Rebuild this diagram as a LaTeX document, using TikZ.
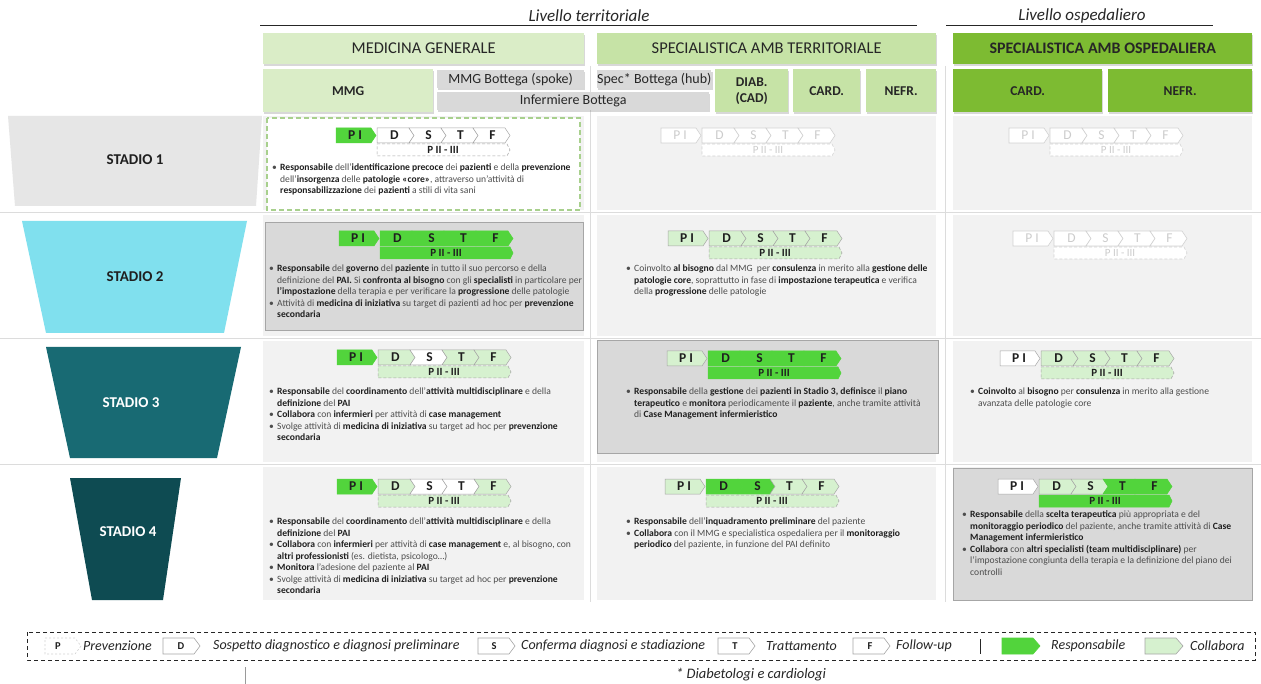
\documentclass[tikz,border=0pt]{standalone}
\usepackage{fontspec}
\setmainfont{Carlito}
\usetikzlibrary{shadows}
\definecolor{resp}{HTML}{52D43C}
\definecolor{coll}{HTML}{D6F1CF}
\definecolor{chb}{HTML}{A6A6A6}
\definecolor{fade}{HTML}{D2D2D2}
\definecolor{fadetxt}{HTML}{CCCCCC}
\definecolor{hdA}{HTML}{DAEDC7}
\definecolor{hdB}{HTML}{C6E3A6}
\definecolor{hdC}{HTML}{7DBB32}
\definecolor{hdG}{HTML}{D9D9D9}
\definecolor{cellbg}{HTML}{F2F2F2}
\definecolor{cellhl}{HTML}{D9D9D9}
\definecolor{gridc}{HTML}{DCDCDC}
\definecolor{txt}{HTML}{4D4D4D}
\definecolor{txtd}{HTML}{1F1F1F}
\definecolor{st1}{HTML}{E6E6E6}
\definecolor{st2}{HTML}{80E0EE}
\definecolor{st3}{HTML}{186A73}
\definecolor{st4}{HTML}{0E4B52}
\definecolor{dashg}{HTML}{A8D08D}
\definecolor{hdtxt}{HTML}{262626}
\newcommand{\bo}[1]{\textbf{\color{txtd}#1}}
\newcommand{\bul}{\makebox[8pt][l]{•}}
\newcommand{\ind}{\hspace*{8pt}}
% chevron: name, x, y, width, notch(0/1), style, label
\newcommand{\chv}[7]{%
  \ifnum#5=1
    \draw[#6] ({#2},{#3}) -- ({#2+#4-5},{#3}) -- ({#2+#4},{#3+7.5}) -- ({#2+#4-5},{#3+15}) -- ({#2},{#3+15}) -- ({#2+5},{#3+7.5}) -- cycle;
  \else
    \draw[#6] ({#2},{#3}) -- ({#2+#4-5},{#3}) -- ({#2+#4},{#3+7.5}) -- ({#2+#4-5},{#3+15}) -- ({#2},{#3+15}) -- cycle;
  \fi
  \node[#6t] (#1) at ({#2+#4/2+#5*2-1},{#3+7.5}) {#7};
}
% group: prefix, x0, y0, PI, D, S, T, F, bar
\newcommand{\grp}[9]{%
  \chv{#1pi}{#2}{#3}{40}{0}{#4}{P I}
  \chv{#1d}{#2+41}{#3}{37}{0}{#5}{D}
  \chv{#1s}{#2+73}{#3}{37}{1}{#6}{S}
  \chv{#1t}{#2+105}{#3}{37}{1}{#7}{T}
  \chv{#1f}{#2+137}{#3}{37}{1}{#8}{F}
  \draw[#9] ({#2+41},{#3+16}) -- ({#2+171},{#3+16}) -- ({#2+174},{#3+22}) -- ({#2+171},{#3+28}) -- ({#2+41},{#3+28}) -- cycle;
  \node[#9t] (#1bar) at ({#2+107},{#3+22}) {P II - III};
}
\begin{document}
\begin{tikzpicture}[x=1pt,y=-1pt,
  chR/.style={fill=resp, draw=resp, line width=0.5pt},
  chC/.style={fill=coll, draw=chb, line width=0.5pt},
  chW/.style={fill=white, draw=chb, line width=0.5pt},
  chF/.style={fill=white, draw=fade, line width=0.6pt},
  chRt/.style={inner sep=0pt, text=txtd, font=\bfseries\fontsize{13.5}{13.5}\selectfont},
  chCt/.style={chRt}, chWt/.style={chRt},
  chFt/.style={inner sep=0pt, text=fadetxt, font=\fontsize{13.5}{13.5}\selectfont},
  barR/.style={fill=resp, draw=resp, line width=0.5pt},
  barC/.style={fill=coll, draw=chb, line width=0.5pt, dash pattern=on 3pt off 2pt},
  barW/.style={fill=white, draw=chb, line width=0.5pt, dash pattern=on 3pt off 2pt},
  barF/.style={fill=white, draw=fade, line width=0.6pt, dash pattern=on 3pt off 2pt},
  barRt/.style={inner sep=0pt, text=txtd, font=\bfseries\fontsize{11}{11}\selectfont},
  barCt/.style={barRt}, barWt/.style={barRt},
  barFt/.style={inner sep=0pt, text=fadetxt, font=\fontsize{11}{11}\selectfont},
  hbox/.style={anchor=north west, inner sep=0pt, text=hdtxt,
    drop shadow={shadow xshift=1.2pt, shadow yshift=-1.6pt, opacity=0.3}},
  htop/.style={hbox, font=\fontsize{16.5}{16.5}\selectfont, minimum height=31pt},
  hsub/.style={hbox, font=\bfseries\fontsize{13.5}{15}\selectfont, minimum height=43pt, align=center},
  hgray/.style={hbox, fill=hdG, font=\fontsize{14}{14}\selectfont, minimum height=18pt},
  body/.style={anchor=north west, inner sep=0pt, align=left, text=txt,
    font=\fontsize{9.6}{11.5}\selectfont},
  stage/.style={font=\bfseries\fontsize{15}{15}\selectfont},
  leglab/.style={anchor=west, inner sep=0pt, text=hdtxt, font=\itshape\fontsize{14}{14}\selectfont},
  lch/.style={inner sep=0pt, text=txtd, font=\bfseries\fontsize{10.5}{10.5}\selectfont}
]
\useasboundingbox (0,0) rectangle (1261,684);
\fill[white] (0,0) rectangle (1261,684);

% level titles
\node[font=\itshape\fontsize{17}{17}\selectfont, text=hdtxt] (lt) at (589,16) {Livello territoriale};
\node[font=\itshape\fontsize{17}{17}\selectfont, text=hdtxt] (lo) at (1082,16) {Livello ospedaliero};
\coordinate (lt1) at (260,25); \coordinate (lt2) at (917,25);
\coordinate (lo1) at (946,25); \coordinate (lo2) at (1213,25);
\draw[line width=0.9pt, hdtxt] (lt1) -- (lt2);
\draw[line width=0.9pt, hdtxt] (lo1) -- (lo2);

% grid lines
\foreach \yy in {212,338,464} \draw[gridc, line width=0.8pt] (0,\yy) -- (1261,\yy);
\draw[gridc, line width=0.8pt] (590,66) -- (590,602);
\draw[gridc, line width=0.8pt] (945,66) -- (945,602);

% headers
\node[htop, fill=hdA, minimum width=321pt] (mg) at (263,33) {MEDICINA GENERALE};
\node[htop, fill=hdB, minimum width=339pt] (st) at (597,33) {SPECIALISTICA AMB TERRITORIALE};
\node[htop, fill=hdC, minimum width=299pt, font=\bfseries\fontsize{16}{16}\selectfont] (so) at (953,33) {SPECIALISTICA AMB OSPEDALIERA};
\node[hsub, fill=hdA, minimum width=170pt] (mmg) at (263,69) {MMG};
\node[hgray, minimum width=147pt] (mmgb) at (437,70) {MMG Bottega (spoke)};
\node[hgray, minimum width=272pt] (infb) at (437,92) {Infermiere Bottega};
\node[hgray, minimum width=112pt] (specb) at (597,70) {Spec* Bottega (hub)};
\node[hsub, fill=hdB, minimum width=73pt, font=\bfseries\fontsize{13.5}{16}\selectfont] (diab) at (715,69) {DIAB.\\(CAD)};
\node[hsub, fill=hdB, minimum width=67pt] (card) at (793,69) {CARD.};
\node[hsub, fill=hdB, minimum width=70pt] (nefr) at (866,69) {NEFR.};
\node[hsub, fill=hdC, minimum width=149pt] (cardo) at (953,69) {CARD.};
\node[hsub, fill=hdC, minimum width=144pt] (nefro) at (1108,69) {NEFR.};

% funnel
\fill[st1] (8,116) -- (262,116) -- (256,206) -- (15,206) -- cycle;
\fill[st2] (22,221) -- (247,221) -- (224,333) -- (46,333) -- cycle;
\fill[st3] (46,347) -- (241,347) -- (217,458) -- (70,458) -- cycle;
\fill[st4] (70,478) -- (181,478) -- (163,600) -- (92,600) -- cycle;
\node[stage, text=txtd] (s1) at (135,160) {STADIO 1};
\node[stage, text=txtd] (s2) at (135,277) {STADIO 2};
\node[stage, text=white] (s3) at (131,403) {STADIO 3};
\node[stage, text=white] (s4) at (128,532) {STADIO 4};

% cell backgrounds
\foreach \xa/\xb in {263/584,597/936,953/1252}{
  \foreach \ya/\yb in {116/210,215/336,341/462,467/600}{
    \fill[cellbg] (\xa,\ya) rectangle (\xb,\yb);
  }
}
% highlighted cells
\draw[fill=white, draw=dashg, line width=1.3pt, dash pattern=on 5pt off 3pt] (267,118) rectangle (580,210);
\draw[fill=cellhl, draw=chb, line width=0.8pt, drop shadow={shadow xshift=1pt, shadow yshift=-1pt, opacity=0.25}] (265,222) rectangle (583,330);
\draw[fill=cellhl, draw=chb, line width=0.8pt, drop shadow={shadow xshift=1pt, shadow yshift=-1pt, opacity=0.25}] (597,340) rectangle (938,453);
\draw[fill=cellhl, draw=chb, line width=0.8pt, drop shadow={shadow xshift=1pt, shadow yshift=-1pt, opacity=0.25}] (953,468) rectangle (1252,600);

% chevron groups
\grp{a1}{336}{128}{chR}{chW}{chW}{chW}{chW}{barW}
\grp{b1}{661}{128}{chF}{chF}{chF}{chF}{chF}{barF}
\grp{c1}{1009}{128}{chF}{chF}{chF}{chF}{chF}{barF}
\grp{a2}{339}{231}{chR}{chR}{chR}{chR}{chR}{barR}
\grp{b2}{668}{231}{chC}{chC}{chC}{chC}{chC}{barC}
\grp{c2}{1013}{231}{chF}{chF}{chF}{chF}{chF}{barF}
\grp{a3}{337}{350}{chR}{chC}{chW}{chC}{chC}{barC}
\grp{b3}{667}{351}{chC}{chR}{chR}{chR}{chR}{barR}
\grp{c3}{1000}{351}{chW}{chC}{chC}{chC}{chC}{barC}
\grp{a4}{337}{479}{chR}{chC}{chW}{chW}{chC}{barC}
\grp{b4}{665}{479}{chC}{chR}{chR}{chC}{chC}{barC}
\grp{c4}{998}{479}{chW}{chC}{chC}{chR}{chR}{barR}

% texts
\node[body] (t1m) at (272,164) {\bul\bo{Responsabile} dell’\bo{identificazione precoce} dei \bo{pazienti} e della \bo{prevenzione}\\
\ind dell’\bo{insorgenza} delle \bo{patologie «core»}, attraverso un’attività di\\
\ind\bo{responsabilizzazione} dei \bo{pazienti} a stili di vita sani};

\node[body] (t2m) at (269,265) {\bul\bo{Responsabile} del \bo{governo} del \bo{paziente} in tutto il suo percorso e della\\
\ind definizione del \bo{PAI.} Si \bo{confronta al bisogno} con gli \bo{specialisti} in particolare per\\
\ind\bo{l’impostazione} della terapia e per verificare la \bo{progressione} delle patologie\\
\bul Attività di \bo{medicina di iniziativa} su target di pazienti ad hoc per \bo{prevenzione}\\
\ind\bo{secondaria}};

\node[body] (t2s) at (626,265) {\bul Coinvolto \bo{al bisogno} dal MMG\ \ per \bo{consulenza} in merito alla \bo{gestione delle}\\
\ind\bo{patologie core}, soprattutto in fase di \bo{impostazione terapeutica} e verifica\\
\ind della \bo{progressione} delle patologie};

\node[body] (t3m) at (269,388) {\bul\bo{Responsabile} del \bo{coordinamento} dell’\bo{attività multidisciplinare} e della\\
\ind\bo{definizione} del \bo{PAI}\\
\bul\bo{Collabora} con \bo{infermieri} per attività di \bo{case management}\\
\bul Svolge attività di \bo{medicina di iniziativa} su target ad hoc per \bo{prevenzione}\\
\ind\bo{secondaria}};

\node[body] (t3s) at (626,388) {\bul\bo{Responsabile} della \bo{gestione} dei \bo{pazienti in Stadio 3, definisce} il \bo{piano}\\
\ind\bo{terapeutico} e \bo{monitora} periodicamente il \bo{paziente}, anche tramite attività\\
\ind di \bo{Case Management infermieristico}};

\node[body] (t3o) at (970,388) {\bul\bo{Coinvolto} al \bo{bisogno} per \bo{consulenza} in merito alla gestione\\
\ind avanzata delle patologie core};

\node[body] (t4m) at (269,518) {\bul\bo{Responsabile} del \bo{coordinamento} dell’\bo{attività multidisciplinare} e della\\
\ind\bo{definizione} del \bo{PAI}\\
\bul\bo{Collabora} con \bo{infermieri} per attività di \bo{case management} e, al bisogno, con\\
\ind\bo{altri professionisti} (es. dietista, psicologo…)\\
\bul\bo{Monitora} l’adesione del paziente al \bo{PAI}\\
\bul Svolge attività di \bo{medicina di iniziativa} su target ad hoc per \bo{prevenzione}\\
\ind\bo{secondaria}};

\node[body] (t4s) at (626,518) {\bul\bo{Responsabile} dell’\bo{inquadramento preliminare} del paziente\\
\bul\bo{Collabora} con il MMG e specialistica ospedaliera per il \bo{monitoraggio}\\
\ind\bo{periodico} del paziente, in funzione del PAI definito};

\node[body] (t4o) at (962,511) {\bul\bo{Responsabile} della \bo{scelta terapeutica} più appropriata e del\\
\ind\bo{monitoraggio periodico} del paziente, anche tramite attività di \bo{Case}\\
\ind\bo{Management infermieristico}\\
\bul\bo{Collabora} con \bo{altri specialisti (team multidisciplinare)} per\\
\ind l’impostazione congiunta della terapia e la definizione del piano dei\\
\ind controlli};

% legend
\draw[hdtxt, line width=0.8pt, dash pattern=on 4pt off 3pt] (27,632) rectangle (1255,660);
\draw[fill=white, draw=fade, line width=0.6pt, dash pattern=on 2pt off 2pt] (45,638) -- (75,638) -- (81,646) -- (75,654) -- (45,654) -- cycle;
\node[lch] (lp) at (58,646) {P};
\node[leglab] (lpl) at (83,646) {Prevenzione};
\draw[fill=white, draw=chb, line width=0.6pt] (163,638) -- (194,638) -- (200,646) -- (194,654) -- (163,654) -- cycle;
\node[lch] (ld) at (181,646) {D};
\node[leglab] (ldl) at (213,646) {Sospetto diagnostico e diagnosi preliminare};
\draw[fill=white, draw=chb, line width=0.6pt] (478,638) -- (509,638) -- (515,646) -- (509,654) -- (478,654) -- cycle;
\node[lch] (ls) at (494,646) {S};
\node[leglab] (lsl) at (521,646) {Conferma diagnosi e stadiazione};
\draw[fill=white, draw=chb, line width=0.6pt] (718,638) -- (749,638) -- (755,646) -- (749,654) -- (718,654) -- cycle;
\node[lch] (lt) at (735,646) {T};
\node[leglab] (ltl) at (766,646) {Trattamento};
\draw[fill=white, draw=chb, line width=0.6pt] (853,638) -- (884,638) -- (890,646) -- (884,654) -- (853,654) -- cycle;
\node[lch] (lf) at (870,646) {F};
\node[leglab] (lfl) at (896,646) {Follow-up};
\coordinate (sep1) at (980,639); \coordinate (sep2) at (980,654);
\draw[hdtxt, line width=1pt] (sep1) -- (sep2);
\draw[fill=resp, draw=resp, line width=0.6pt] (1002,638) -- (1033,638) -- (1040,646) -- (1033,654) -- (1002,654) -- cycle;
\node[leglab] (lrl) at (1051,646) {Responsabile};
\draw[fill=coll, draw=chb, line width=0.6pt] (1145,638) -- (1176,638) -- (1183,646) -- (1176,654) -- (1145,654) -- cycle;
\node[leglab] (lcl) at (1190,646) {Collabora};

\node[font=\itshape\fontsize{14.5}{14.5}\selectfont, text=hdtxt] (fn) at (751,675) {* Diabetologi e cardiologi};
\coordinate (v1) at (245,667); \coordinate (v2) at (245,684);
\draw[gridc!70!black, line width=0.7pt] (v1) -- (v2);
\end{tikzpicture}
\end{document}
